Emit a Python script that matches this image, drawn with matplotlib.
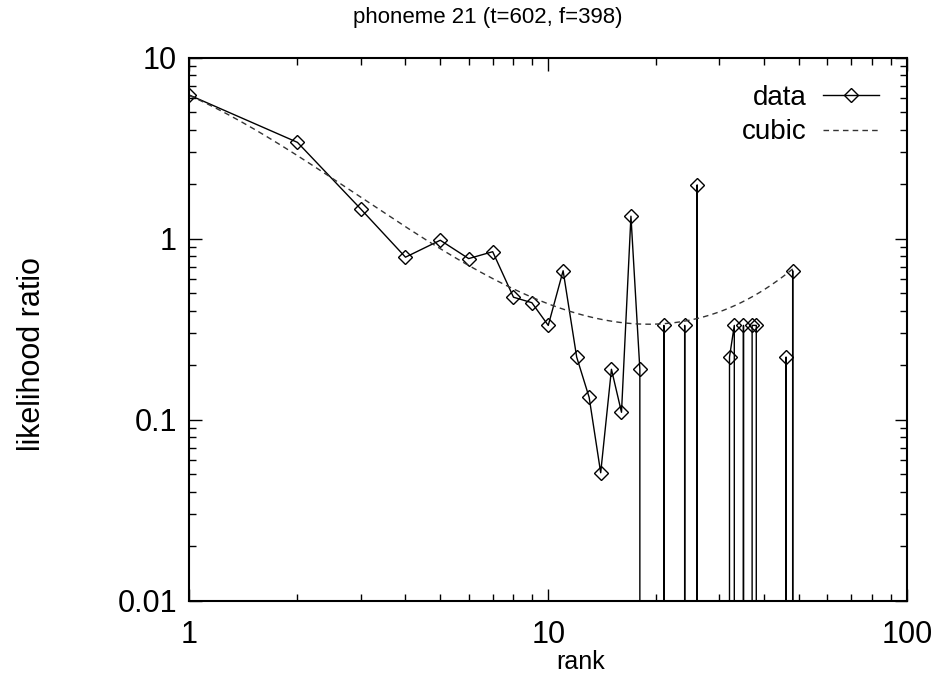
import numpy as np
import matplotlib
matplotlib.use('Agg')
from matplotlib import pyplot as plt
from matplotlib.ticker import FixedLocator, FixedFormatter, LogLocator, NullFormatter

plt.rcParams['font.family'] = ['Liberation Sans', 'DejaVu Sans']

# likelihood ratio per rank (0 = no true occurrences)
rank = np.arange(1, 50)
ratio = [6.2, 3.4, 1.46, 0.79, 0.98, 0.776, 0.847, 0.475, 0.443, 0.332,
         0.665, 0.222, 0.133, 0.051, 0.19, 0.11, 1.33, 0.19, 0, 0,
         0.332, 0, 0, 0.332, 0, 1.98, 0, 0, 0, 0,
         0, 0.222, 0.332, 0, 0.332, 0, 0.332, 0.332, 0, 0,
         0, 0, 0, 0, 0, 0.222, 0, 0.665, 0]

# cubic fit in log10-log10 space (constant term first)
cubic_coef = [0.79, -0.881, -0.936, 0.667]
cubic_max_rank = 48

xticks = [1, 10, 100]
xtick_labels = ['1', '10', '100']
yticks = [0.01, 0.1, 1, 10]
ytick_labels = ['0.01', '0.1', '1', '10']

W, H = 938, 679
fig = plt.figure(figsize=(W / 100, H / 100), dpi=100)
ax = fig.add_axes([0.202, 0.115, 0.765, 0.8003])

u = np.linspace(0, np.log10(cubic_max_rank), 200)
w = np.polyval(cubic_coef[::-1], u)

ax.plot(rank, ratio, color='black', lw=1.0, marker='D', ms=7.5,
        mfc='none', mec='black', mew=1.0, label='data')
ax.plot(10 ** u, 10 ** w, color='#333333', lw=1.0, ls=(0, (4, 3)), label='cubic')

ax.set_xscale('log')
ax.set_yscale('log')
ax.set_xlim(1, 100)
ax.set_ylim(0.01, 10)

ax.xaxis.set_major_locator(FixedLocator(xticks))
ax.xaxis.set_major_formatter(FixedFormatter(xtick_labels))
ax.yaxis.set_major_locator(FixedLocator(yticks))
ax.yaxis.set_major_formatter(FixedFormatter(ytick_labels))
ax.xaxis.set_minor_locator(LogLocator(base=10, subs=np.arange(2, 10)))
ax.yaxis.set_minor_locator(LogLocator(base=10, subs=np.arange(2, 10)))
ax.xaxis.set_minor_formatter(NullFormatter())
ax.yaxis.set_minor_formatter(NullFormatter())

ax.tick_params(which='both', direction='in', top=True, right=True, width=1.0)
ax.tick_params(which='major', length=9, labelsize=22)
ax.tick_params(axis='x', which='major', pad=14)
ax.tick_params(axis='y', which='major', pad=9)
ax.tick_params(which='minor', length=5)
for s in ax.spines.values():
    s.set_linewidth(1.5)

fig.text(488 / W, 1 - 18 / H, 'phoneme 21 (t=602, f=398)', fontsize=16,
         ha='center', va='center')
fig.text(581 / W, 1 - 662 / H, 'rank', fontsize=18, ha='center', va='center')
fig.text(32 / W, 1 - 354 / H, 'likelihood ratio', fontsize=22, rotation=90,
         ha='center', va='center')

ax.legend(loc='upper right', frameon=False, markerfirst=False, fontsize=20,
          handlelength=2.0, handletextpad=0.6, labelspacing=0.3,
          bbox_to_anchor=(0.976, 0.97), borderaxespad=0)

fig.savefig('out.png', dpi=100)
